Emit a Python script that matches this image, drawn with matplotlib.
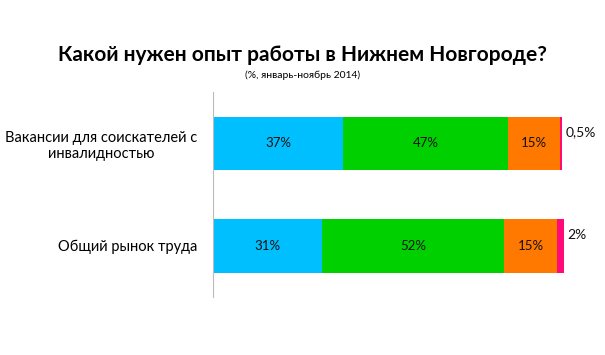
import numpy as np
import matplotlib.pyplot as plt

plt.rcParams['font.family'] = ['Lato', 'DejaVu Sans']

categories = ['Вакансии для соискателей с\nинвалидностью', 'Общий рынок труда']
series = [
    [37, 31],
    [47, 52],
    [15, 15],
    [0.5, 2],
]
labels = [
    ['37%', '31%'],
    ['47%', '52%'],
    ['15%', '15%'],
    ['0,5%', '2%'],
]
colors = ['#00BFFF', '#00D000', '#FF7800', '#FF0A78']

fig = plt.figure(figsize=(6.05, 3.55), dpi=100)
ax = fig.add_axes([0.352, 0.163, 0.64, 0.578])

y = np.array([1, 0])
left = np.zeros(2)
for k, vals in enumerate(series):
    vals = np.array(vals, dtype=float)
    ax.barh(y, vals, left=left, height=0.52, color=colors[k], linewidth=0)
    for i in range(2):
        if k < 3:
            ax.text(left[i] + vals[i] / 2, y[i], labels[k][i], ha='center', va='center',
                    fontsize=9.5, color='#111111')
        else:
            ax.text(left[i] + vals[i] + 0.9, y[i] + 0.11, labels[k][i], ha='left', va='center',
                    fontsize=10, color='#111111')
    left += vals

ax.set_xlim(0, 110.3)
ax.set_ylim(-0.5, 1.5)
ax.set_yticks(y)
ax.set_yticklabels(categories, fontsize=10.5, multialignment='center')
ax.tick_params(axis='y', length=0, pad=11)
ax.set_xticks([])
for s in ['top', 'right', 'bottom']:
    ax.spines[s].set_visible(False)
ax.spines['left'].set_color('#BBBBBB')

fig.text(0.5, 0.845, 'Какой нужен опыт работы в Нижнем Новгороде?', ha='center', va='center',
         fontsize=15, fontweight='bold')
fig.text(0.5, 0.787, '(%, январь-ноябрь 2014)', ha='center', va='center', fontsize=7.5)

fig.savefig('out.png', dpi=100)
